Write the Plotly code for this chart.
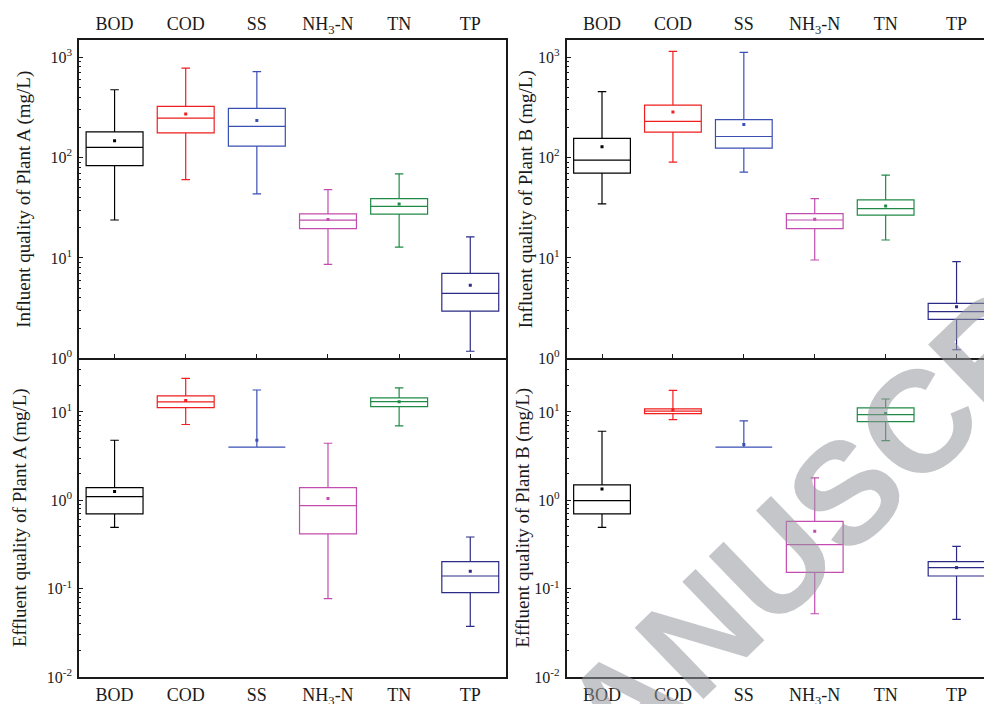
import plotly.graph_objects as go

categories = ["BOD", "COD", "SS", "NH3-N", "TN", "TP"]
cat_labels = ["BOD", "COD", "SS", "NH<sub>3</sub>-N", "TN", "TP"]
colors = ["#000000", "#f01e1e", "#3a4fb4", "#c24cb0", "#1f8a45", "#2b2b85"]

# Influent, Plant A
infA_upper = [473, 778, 715, 48.0, 68.8, 16.2]
infA_q3 = [180, 323, 308, 27.5, 39.0, 7.04]
infA_med = [126, 247, 204, 23.8, 32.7, 4.45]
infA_q1 = [83, 176, 130, 19.6, 27.3, 2.96]
infA_lower = [23.9, 60.4, 43.5, 8.65, 12.8, 1.18]
infA_mean = [147, 271, 234, 24.1, 34.5, 5.34]

# Influent, Plant B
infB_upper = [452, 1140, 1114, 39.0, 66.7, 9.19]
infB_q3 = [155, 333, 238, 27.7, 37.9, 3.53]
infB_med = [94.2, 229, 162, 23.9, 31.0, 2.92]
infB_q1 = [69.9, 179, 124, 19.6, 26.7, 2.45]
infB_lower = [34.5, 90, 71.5, 9.55, 15.1, 1.22]
infB_mean = [128, 284, 213, 24.3, 33.0, 3.27]

# Effluent, Plant A
effA_upper = [4.78, 23.9, 17.7, 4.42, 18.7, 0.384]
effA_q3 = [1.39, 15.2, 4.0, 1.39, 14.4, 0.202]
effA_med = [1.10, 13.0, 4.0, 0.87, 13.1, 0.139]
effA_q1 = [0.70, 11.2, 4.0, 0.416, 11.5, 0.090]
effA_lower = [0.494, 7.2, 4.0, 0.077, 6.95, 0.0374]
effA_mean = [1.26, 13.5, 4.78, 1.05, 13.0, 0.157]

# Effluent, Plant B
effB_upper = [6.04, 17.5, 7.9, 1.79, 14.0, 0.301]
effB_q3 = [1.49, 10.8, 4.0, 0.578, 11.1, 0.202]
effB_med = [0.99, 10.2, 4.0, 0.315, 9.34, 0.173]
effB_q1 = [0.70, 9.58, 4.0, 0.153, 7.78, 0.139]
effB_lower = [0.494, 8.2, 4.0, 0.052, 4.74, 0.0449]
effB_mean = [1.34, 10.5, 4.27, 0.446, 9.58, 0.173]

y_titles = ["Influent quality of Plant A (mg/L)", "Influent quality of Plant B (mg/L)",
            "Effluent quality of Plant A (mg/L)", "Effluent quality of Plant B (mg/L)"]

panels = [
    (infA_upper, infA_q3, infA_med, infA_q1, infA_lower, infA_mean),
    (infB_upper, infB_q3, infB_med, infB_q1, infB_lower, infB_mean),
    (effA_upper, effA_q3, effA_med, effA_q1, effA_lower, effA_mean),
    (effB_upper, effB_q3, effB_med, effB_q1, effB_lower, effB_mean),
]

FONT = "Liberation Serif"
INK = "#1a1a1a"
OFF = 8  # page body margin in the browser
W, H = 992 - OFF, 704 - OFF
ML = 79.3 - OFF
MT = 40 - OFF
MB = H - (676.7 - OFF)
MR = 0
PW, PH = W - ML - MR, H - MT - MB
positions = list(range(1, len(categories) + 1))

fig = go.Figure()
for p, (up, q3, med, q1, lo, mn) in enumerate(panels):
    xa = "x" if p == 0 else f"x{p+1}"
    ya = "y" if p == 0 else f"y{p+1}"
    for i, c in enumerate(categories):
        fig.add_trace(go.Box(
            x=[positions[i]], q1=[q1[i]], median=[med[i]], q3=[q3[i]],
            lowerfence=[lo[i]], upperfence=[up[i]],
            width=0.8, whiskerwidth=0.15,
            line=dict(color=colors[i], width=1.2),
            fillcolor="rgba(0,0,0,0)", boxpoints=False,
            xaxis=xa, yaxis=ya, showlegend=False, name=c,
        ))
        fig.add_trace(go.Scatter(
            x=[positions[i]], y=[mn[i]], mode="markers",
            marker=dict(symbol="square", size=3, color=colors[i]),
            xaxis=xa, yaxis=ya, showlegend=False, hoverinfo="skip",
        ))

# dummy traces to carry the top category-label axes
fig.add_trace(go.Scatter(x=[None], y=[None], xaxis="x5", yaxis="y", showlegend=False))
fig.add_trace(go.Scatter(x=[None], y=[None], xaxis="x6", yaxis="y2", showlegend=False))

def px_x(v):
    # page pixel -> paper fraction
    return (v - OFF - ML) / PW

def px_y(v):
    return (H - MB - (v - OFF)) / PH

xl = [0.0, px_x(506)]
xr = [px_x(566.7), 1.0]
mid = px_y(358.3)
yt = [mid, 1.0]
yb = [0.0, mid]

xrange = [0.5, len(categories) + 0.5]

def minor_vals(lo_exp, hi_exp):
    vals = []
    for e in range(lo_exp, hi_exp + 1):
        for m in range(2, 10):
            vals.append(m * 10.0 ** e)
    return vals

def ylog(domain, rng, exps, anchor, title, mirror, standoff):
    return dict(
        domain=domain, type="log", range=rng, anchor=anchor, automargin=False,
        tickvals=[10.0 ** e for e in exps],
        ticktext=[f"10<sup>{e}</sup>" for e in exps],
        ticks="inside", ticklen=4.5, tickwidth=1, tickcolor=INK,
        minor=dict(tickvals=minor_vals(min(exps) - 1, max(exps) + 1), ticks="inside", ticklen=2.5,
                   tickwidth=1, tickcolor=INK, showgrid=False),
        showline=True, linecolor=INK, linewidth=1.5, mirror=mirror,
        showgrid=False, zeroline=False, ticklabelstandoff=2,
        tickfont=dict(family=FONT, size=16, color=INK),
        title=dict(text=title, font=dict(family=FONT, size=19, color=INK), standoff=standoff),
    )

top_exps = [0, 1, 2, 3]
bot_exps = [-2, -1, 0, 1]

common_x = dict(range=xrange, tickvals=positions, showgrid=False, zeroline=False, automargin=False)
label_font = dict(family=FONT, size=18, color=INK)

layout_axes = dict(
    xaxis=dict(domain=xl, anchor="y", showticklabels=False, ticks="inside", ticklen=5, tickwidth=1,
               tickcolor=INK, showline=True, linecolor=INK, linewidth=1.5, mirror=True, **common_x),
    xaxis2=dict(domain=xr, anchor="y2", showticklabels=False, ticks="inside", ticklen=5, tickwidth=1,
                tickcolor=INK, showline=True, linecolor=INK, linewidth=1.5, mirror=True, **common_x),
    xaxis3=dict(domain=xl, anchor="y3", ticktext=cat_labels, ticks="", showline=True, linecolor=INK,
                linewidth=1.5, mirror=False, ticklabelstandoff=1, tickfont=label_font, **common_x),
    xaxis4=dict(domain=xr, anchor="y4", ticktext=cat_labels, ticks="", showline=True, linecolor=INK,
                linewidth=1.5, mirror=False, ticklabelstandoff=1, tickfont=label_font, **common_x),
    xaxis5=dict(overlaying="x", side="top", anchor="y", ticktext=cat_labels, ticks="", showline=False,
                ticklabelstandoff=5, tickfont=label_font, **common_x),
    xaxis6=dict(overlaying="x2", side="top", anchor="y2", ticktext=cat_labels, ticks="", showline=False,
                ticklabelstandoff=5, tickfont=label_font, **common_x),
    yaxis=ylog(yt, [0, 3.17], top_exps, "x", y_titles[0], True, 15),
    yaxis2=ylog(yt, [0, 3.17], top_exps, "x2", y_titles[1], False, 0),
    yaxis3=ylog(yb, [-2, 1.605], bot_exps, "x3", y_titles[2], True, 15),
    yaxis4=ylog(yb, [-2, 1.605], bot_exps, "x4", y_titles[3], False, 0),
)

fig.update_layout(
    width=W, height=H,
    margin=dict(l=ML, r=MR, t=MT, b=MB, autoexpand=False),
    paper_bgcolor="white", plot_bgcolor="white",
    showlegend=False,
    **layout_axes,
)

# watermark
fig.add_annotation(
    text="<b>MANUSCRIPT</b>", xref="paper", yref="paper", x=px_x(846), y=px_y(492),
    showarrow=False, textangle=-44,
    font=dict(family="Liberation Sans", size=144, color="rgba(150,152,156,0.55)"),
    xanchor="center", yanchor="middle",
)

fig.write_html("out.html")
